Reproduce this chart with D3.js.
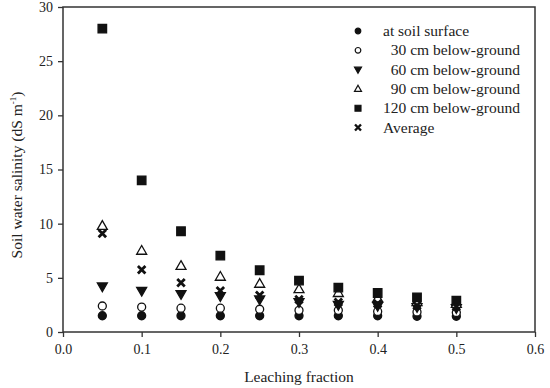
<!DOCTYPE html>
<html><head><meta charset="utf-8">
<script src="https://cdn.jsdelivr.net/npm/d3@7"></script>
<style>
body{margin:0;background:#fff;}
svg{display:block;}
svg text{font-family:"Liberation Serif","Times New Roman",serif !important;}
</style></head>
<body><svg id="c" width="550" height="388"></svg>
<script>
const leaching = [0.05,0.10,0.15,0.20,0.25,0.30,0.35,0.40,0.45,0.50];
const surface  = [1.5,1.5,1.5,1.5,1.5,1.5,1.5,1.5,1.45,1.45];
const cm30     = [2.4,2.3,2.2,2.2,2.1,2.0,2.0,1.9,1.85,1.8];
const cm60     = [4.2,3.8,3.5,3.3,3.0,2.75,2.5,2.4,2.3,2.2];
const cm90     = [9.8,7.5,6.1,5.1,4.45,3.95,3.6,3.1,2.75,2.6];
const cm120    = [28.0,14.0,9.3,7.05,5.7,4.75,4.1,3.6,3.2,2.9];
const average  = [9.1,5.75,4.55,3.8,3.4,3.0,2.75,2.6,2.45,2.35];
const seriesNames = ["at soil surface","  30 cm below-ground","  60 cm below-ground","  90 cm below-ground","120 cm below-ground","Average"];
const xTicks = [0.0,0.1,0.2,0.3,0.4,0.5,0.6];
const yTicks = [0,5,10,15,20,25,30];

const svg = d3.select("#c");
const L=63, R=535, T=7, B=332;
const x = d3.scaleLinear().domain([0,0.6]).range([L,R]);
const y = d3.scaleLinear().domain([0,30]).range([B,T]);
const ink = "#111";

svg.append("rect").attr("x",L).attr("y",T).attr("width",R-L).attr("height",B-T)
  .attr("fill","none").attr("stroke","#333").attr("stroke-width",1.5);

const xAxis = svg.append("g").attr("transform",`translate(0,${B})`)
  .call(d3.axisBottom(x).tickValues(xTicks).tickFormat(d3.format(".1f")).tickSize(5).tickPadding(7));
const yAxis = svg.append("g").attr("transform",`translate(${L},0)`)
  .call(d3.axisLeft(y).tickValues(yTicks).tickFormat(d3.format("d")).tickSize(5).tickPadding(5));
[xAxis,yAxis].forEach(g=>{
  g.attr("font-family",null);
  g.select(".domain").remove();
  g.selectAll(".tick line").attr("stroke","#333").attr("stroke-width",1.3);
  g.selectAll("text").attr("font-size",14).attr("fill","#222");
});

svg.append("text").attr("x",(L+R)/2).attr("y",382).attr("text-anchor","middle")
  .attr("font-size",15.5).attr("fill","#222").text("Leaching fraction");
const yl = svg.append("text").attr("transform",`translate(22,175) rotate(-90)`)
  .attr("text-anchor","middle").attr("font-size",15.5).attr("fill","#222");
yl.append("tspan").text("Soil water salinity (dS m");
yl.append("tspan").attr("dy",-6).attr("font-size",9).text("-1");
yl.append("tspan").attr("dy",6).text(")");

function sym(type, s){
  if(type==="circle") return d3.symbol(d3.symbolCircle, s*s*Math.PI/4)();
  if(type==="square") return d3.symbol(d3.symbolSquare, s*s)();
  if(type==="tri"){ const h=s*0.87; return `M0,${-h*0.6}L${s/2},${h*0.4}L${-s/2},${h*0.4}Z`; }
  if(type==="tridown"){ const h=s*0.87; return `M0,${h*0.6}L${s/2},${-h*0.4}L${-s/2},${-h*0.4}Z`; }
  if(type==="x"){ const a=s/2; return `M${-a},${-a}L${a},${a}M${-a},${a}L${a},${-a}`; }
}
const series = [
  {vals:surface, type:"circle", fill:ink, stroke:ink, size:8},
  {vals:cm30, type:"circle", fill:"#fff", stroke:ink, size:8},
  {vals:cm60, type:"tridown", fill:ink, stroke:ink, size:10},
  {vals:cm90, type:"tri", fill:"#fff", stroke:ink, size:10},
  {vals:cm120, type:"square", fill:ink, stroke:ink, size:8.5},
  {vals:average, type:"x", fill:"none", stroke:ink, size:7.5}
];
series.forEach(s=>{
  svg.append("g").selectAll("path").data(leaching).join("path")
    .attr("transform",(d,i)=>`translate(${x(d)},${y(s.vals[i])})`)
    .attr("d",sym(s.type,s.size))
    .attr("fill",s.fill).attr("stroke",s.stroke)
    .attr("stroke-width",s.type==="x"?2.8:1.3);
});

const lg = svg.append("g");
seriesNames.forEach((n,i)=>{
  const s=series[i], cy=31+i*19.3;
  const sz = s.type==="x"?6:s.size*0.7;
  lg.append("path").attr("transform",`translate(358,${cy})`).attr("d",sym(s.type,sz))
    .attr("fill",s.fill).attr("stroke",s.stroke).attr("stroke-width",s.type==="x"?2.4:1.2);
  lg.append("text").attr("x",383).attr("y",cy+5).attr("font-size",15.5).attr("fill","#222")
    .style("white-space","pre").text(n);
});
</script></body></html>
